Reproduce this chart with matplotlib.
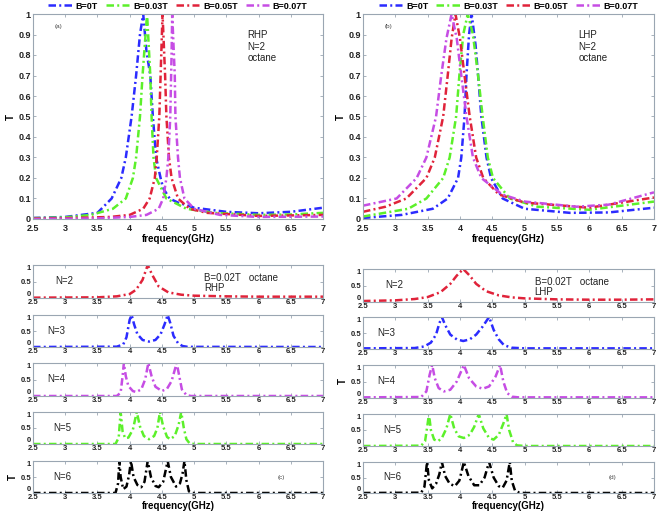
import matplotlib
matplotlib.use("Agg")
import matplotlib.pyplot as plt

plt.rcParams['font.family'] = ['Liberation Sans', 'DejaVu Sans']

# ---- top panels: T vs frequency for several B (N=2, octane) ----
field_labels = ['B=0T', 'B=0.03T', 'B=0.05T', 'B=0.07T']
field_colors = ['#2b2bff', '#5cf02a', '#e0233a', '#c64de4']

rhp_f = [
    [2.5, 3.0, 3.5, 3.72, 3.87, 3.94, 4.03, 4.1, 4.16, 4.21, 4.26, 4.32, 4.36, 4.41, 4.48, 4.52, 4.62, 4.75, 4.88, 5.0, 5.5, 6.0, 6.5, 7.0],
    [2.5, 3.0, 3.4, 3.74, 3.94, 4.05, 4.1, 4.16, 4.2, 4.27, 4.32, 4.34, 4.37, 4.41, 4.57, 4.88, 5.3, 6.0, 6.5, 7.0],
    [2.5, 3.0, 3.7, 4.0, 4.21, 4.31, 4.39, 4.42, 4.46, 4.49, 4.51, 4.55, 4.57, 4.61, 4.65, 4.75, 4.93, 5.2, 6.0, 7.0],
    [2.5, 3.5, 4.0, 4.26, 4.45, 4.52, 4.57, 4.6, 4.63, 4.65, 4.66, 4.7, 4.71, 4.75, 4.78, 4.85, 5.0, 5.4, 6.0, 7.0],
]
rhp_t = [
    [0.005, 0.01, 0.03, 0.1, 0.2, 0.3, 0.5, 0.7, 0.9, 1.0, 0.82, 0.7, 0.5, 0.3, 0.2, 0.15, 0.1, 0.08, 0.068, 0.055, 0.035, 0.028, 0.035, 0.055],
    [0.004, 0.008, 0.02, 0.05, 0.1, 0.2, 0.3, 0.5, 0.7, 1.0, 0.7, 0.5, 0.3, 0.2, 0.1, 0.05, 0.03, 0.02, 0.022, 0.03],
    [0.002, 0.004, 0.01, 0.02, 0.05, 0.1, 0.2, 0.3, 0.5, 0.8, 1.0, 0.7, 0.5, 0.3, 0.2, 0.1, 0.05, 0.03, 0.015, 0.02],
    [0.0, 0.003, 0.01, 0.02, 0.05, 0.1, 0.2, 0.3, 0.5, 0.8, 1.0, 0.7, 0.5, 0.3, 0.2, 0.1, 0.05, 0.02, 0.01, 0.012],
]

lhp_f = [
    [2.5, 3.1, 3.58, 3.81, 3.97, 4.02, 4.07, 4.1, 4.14, 4.18, 4.24, 4.28, 4.33, 4.41, 4.48, 4.66, 5.0, 5.7, 6.3, 7.0],
    [2.5, 3.2, 3.48, 3.74, 3.84, 3.94, 3.99, 4.05, 4.12, 4.2, 4.28, 4.35, 4.43, 4.51, 4.77, 5.2, 6.0, 7.0],
    [2.5, 2.85, 3.17, 3.48, 3.61, 3.74, 3.81, 3.87, 3.93, 4.0, 4.07, 4.15, 4.25, 4.36, 4.6, 5.0, 6.0, 7.0],
    [2.5, 3.02, 3.33, 3.48, 3.63, 3.71, 3.79, 3.87, 3.95, 4.02, 4.1, 4.2, 4.33, 4.65, 5.0, 5.8, 6.3, 7.0],
]
lhp_t = [
    [0.005, 0.02, 0.05, 0.1, 0.2, 0.3, 0.5, 0.7, 0.9, 1.0, 0.85, 0.7, 0.5, 0.3, 0.2, 0.1, 0.05, 0.03, 0.032, 0.055],
    [0.012, 0.05, 0.1, 0.2, 0.3, 0.5, 0.7, 0.9, 1.0, 0.9, 0.7, 0.5, 0.3, 0.2, 0.1, 0.06, 0.045, 0.085],
    [0.035, 0.06, 0.1, 0.2, 0.3, 0.5, 0.7, 0.88, 1.0, 0.88, 0.7, 0.5, 0.3, 0.2, 0.12, 0.08, 0.055, 0.105],
    [0.065, 0.1, 0.2, 0.3, 0.5, 0.7, 0.88, 1.0, 0.88, 0.7, 0.5, 0.3, 0.2, 0.12, 0.085, 0.06, 0.07, 0.13],
]

# ---- bottom panels: T vs frequency for N = 2..6 (B=0.02T, octane) ----
n_labels = ['N=2', 'N=3', 'N=4', 'N=5', 'N=6']
n_colors = ['#e0233a', '#2b2bff', '#c64de4', '#5cf02a', '#000000']

rhp_n_f = [
    [2.5, 3.5, 3.8, 4.0, 4.1, 4.2, 4.28, 4.35, 4.45, 4.6, 4.8, 5.0, 5.5, 6.0, 7.0],
    [2.5, 3.8, 3.9, 3.95, 4.0, 4.03, 4.07, 4.12, 4.2, 4.3, 4.4, 4.48, 4.54, 4.59, 4.63, 4.68, 4.75, 4.82, 4.9, 7.0],
    [2.5, 3.8, 3.86, 3.89, 3.91, 3.94, 3.98, 4.05, 4.1, 4.18, 4.24, 4.29, 4.34, 4.4, 4.5, 4.58, 4.65, 4.73, 4.77, 4.81, 4.88, 4.95, 7.0],
    [2.5, 3.78, 3.83, 3.86, 3.89, 3.93, 3.98, 4.05, 4.11, 4.16, 4.22, 4.3, 4.38, 4.43, 4.47, 4.52, 4.58, 4.63, 4.7, 4.76, 4.8, 4.84, 4.88, 4.93, 5.0, 7.0],
    [2.5, 3.78, 3.82, 3.84, 3.86, 3.9, 3.95, 3.99, 4.02, 4.06, 4.12, 4.18, 4.23, 4.28, 4.33, 4.4, 4.45, 4.52, 4.59, 4.64, 4.72, 4.78, 4.82, 4.85, 4.88, 4.92, 4.97, 7.0],
]
rhp_n_t = [
    [0.01, 0.02, 0.05, 0.12, 0.25, 0.55, 1.0, 0.7, 0.35, 0.17, 0.1, 0.07, 0.05, 0.04, 0.04],
    [0.0, 0.01, 0.08, 0.3, 0.85, 1.0, 0.7, 0.4, 0.22, 0.17, 0.22, 0.4, 0.7, 1.0, 0.75, 0.35, 0.12, 0.03, 0.005, 0.0],
    [0.0, 0.0, 0.1, 0.6, 1.0, 0.6, 0.3, 0.15, 0.12, 0.2, 0.5, 1.0, 0.6, 0.28, 0.15, 0.22, 0.45, 1.0, 0.6, 0.2, 0.03, 0.0, 0.0],
    [0.0, 0.0, 0.2, 1.0, 0.4, 0.18, 0.2, 0.45, 1.0, 0.55, 0.25, 0.15, 0.25, 0.5, 1.0, 0.55, 0.22, 0.15, 0.25, 0.6, 1.0, 0.5, 0.15, 0.02, 0.0, 0.0],
    [0.0, 0.0, 0.3, 1.0, 0.5, 0.12, 0.2, 0.55, 1.0, 0.5, 0.25, 0.18, 0.35, 1.0, 0.5, 0.22, 0.18, 0.35, 1.0, 0.5, 0.2, 0.3, 0.6, 1.0, 0.4, 0.05, 0.0, 0.0],
]

lhp_n_f = [
    [2.5, 3.0, 3.3, 3.5, 3.7, 3.85, 3.95, 4.05, 4.15, 4.25, 4.4, 4.6, 4.8, 5.0, 5.5, 6.0, 6.5, 7.0],
    [2.5, 3.3, 3.45, 3.55, 3.63, 3.68, 3.72, 3.77, 3.85, 3.95, 4.05, 4.15, 4.25, 4.35, 4.45, 4.52, 4.6, 4.68, 4.8, 5.0, 7.0],
    [2.5, 3.4, 3.48, 3.53, 3.57, 3.61, 3.67, 3.75, 3.85, 3.95, 4.06, 4.14, 4.25, 4.35, 4.45, 4.55, 4.62, 4.67, 4.73, 4.8, 4.9, 7.0],
    [2.5, 3.4, 3.46, 3.5, 3.52, 3.55, 3.6, 3.66, 3.72, 3.79, 3.85, 3.91, 3.98, 4.06, 4.15, 4.22, 4.29, 4.36, 4.45, 4.52, 4.6, 4.67, 4.72, 4.76, 4.82, 4.88, 5.0, 7.0],
    [2.5, 3.4, 3.45, 3.49, 3.52, 3.57, 3.63, 3.68, 3.72, 3.77, 3.84, 3.92, 3.99, 4.06, 4.13, 4.22, 4.3, 4.38, 4.45, 4.52, 4.6, 4.66, 4.72, 4.77, 4.8, 4.85, 4.92, 5.0, 7.0],
]
lhp_n_t = [
    [0.03, 0.05, 0.09, 0.15, 0.3, 0.55, 0.8, 1.0, 0.8, 0.55, 0.33, 0.2, 0.14, 0.11, 0.08, 0.07, 0.07, 0.08],
    [0.02, 0.03, 0.08, 0.2, 0.45, 0.8, 1.0, 0.75, 0.45, 0.3, 0.25, 0.3, 0.45, 0.7, 1.0, 0.6, 0.3, 0.12, 0.04, 0.02, 0.02],
    [0.02, 0.03, 0.2, 0.7, 1.0, 0.6, 0.3, 0.2, 0.25, 0.5, 1.0, 0.6, 0.35, 0.28, 0.35, 0.65, 1.0, 0.5, 0.15, 0.04, 0.02, 0.02],
    [0.0, 0.01, 0.15, 0.7, 1.0, 0.5, 0.2, 0.15, 0.25, 0.55, 1.0, 0.55, 0.3, 0.25, 0.35, 0.6, 1.0, 0.55, 0.25, 0.2, 0.35, 0.7, 1.0, 0.5, 0.12, 0.02, 0.0, 0.0],
    [0.0, 0.01, 0.2, 1.0, 0.4, 0.15, 0.3, 0.6, 1.0, 0.55, 0.3, 0.22, 0.4, 1.0, 0.55, 0.25, 0.25, 0.5, 1.0, 0.5, 0.22, 0.17, 0.4, 1.0, 0.4, 0.08, 0.01, 0.0, 0.0],
]

freq_ticks = [2.5, 3, 3.5, 4, 4.5, 5, 5.5, 6, 6.5, 7]
freq_tick_labels = ['2.5', '3', '3.5', '4', '4.5', '5', '5.5', '6', '6.5', '7']
t_ticks = [0, 0.1, 0.2, 0.3, 0.4, 0.5, 0.6, 0.7, 0.8, 0.9, 1]
t_tick_labels = ['0', '0.1', '0.2', '0.3', '0.4', '0.5', '0.6', '0.7', '0.8', '0.9', '1']

W, H = 661, 518
frame_col = '#9aa6b2'
dash = (3, 1.3, 0.8, 1.3)


def px_axes(fig, x0, y0, x1, y1):
    # pixel box (top-left origin) -> figure axes
    return fig.add_axes([x0 / W, 1 - y1 / H, (x1 - x0) / W, (y1 - y0) / H])


def style_axes(ax, size):
    for s in ax.spines.values():
        s.set_color(frame_col)
        s.set_linewidth(0.8)
    ax.tick_params(direction='in', length=2.5, width=0.6, colors=frame_col,
                   labelcolor='#222222', labelsize=size, pad=1.5,
                   top=True, right=True)
    for lab in ax.get_xticklabels() + ax.get_yticklabels():
        lab.set_fontweight('bold')


fig = plt.figure(figsize=(W / 100, H / 100), dpi=100)

# top panels
tops = [
    (33, 323, rhp_f, rhp_t, '(a)', 'RHP\nN=2\noctane'),
    (363, 654, lhp_f, lhp_t, '(b)', 'LHP\nN=2\noctane'),
]
for x0, x1, fs, ts, tag, note in tops:
    ax = px_axes(fig, x0, 14, x1, 219)
    for f, t, c, lab in zip(fs, ts, field_colors, field_labels):
        ax.plot(f, t, color=c, lw=1.8, dashes=dash, label=lab)
    ax.set_xlim(2.5, 7)
    ax.set_ylim(0, 1)
    ax.set_xticks(freq_ticks)
    ax.set_xticklabels(freq_tick_labels)
    ax.set_yticks(t_ticks)
    ax.set_yticklabels(t_tick_labels)
    style_axes(ax, 6.5)
    ax.tick_params(axis='x', pad=3.5)
    ax.set_xlabel('frequency(GHz)', fontsize=7, fontweight='bold', labelpad=1)
    ax.set_ylabel('T', fontsize=7, fontweight='bold', labelpad=2)
    ax.text(0.075, 0.93, tag, transform=ax.transAxes, fontsize=4.5, color='#444444')
    ax.text(0.74, 0.92, note, transform=ax.transAxes, fontsize=7, va='top',
            linespacing=1.15, color='#222222')
    leg = ax.legend(loc='lower center', bbox_to_anchor=(0.5, 0.99), ncol=4,
                    frameon=False, fontsize=6.5, handlelength=2.6,
                    handletextpad=0.4, columnspacing=0.9, borderpad=0.1)
    for txt in leg.get_texts():
        txt.set_fontweight('bold')

# bottom stacks
left_boxes = [(265, 298), (315, 347), (363, 396), (412, 444), (461, 493)]
right_boxes = [(269, 302), (317, 349), (365, 398), (414, 446), (462, 493)]
stacks = [
    (33, 323, left_boxes, rhp_n_f, rhp_n_t, 'RHP', '(c)', 4, [0.075, 0.05, 0.05, 0.07, 0.07]),
    (363, 654, right_boxes, lhp_n_f, lhp_n_t, 'LHP', '(d)', 2, [0.075, 0.05, 0.05, 0.07, 0.07]),
]
for x0, x1, boxes, fs, ts, hand, tag, t_row, nx in stacks:
    for i, (y0, y1) in enumerate(boxes):
        ax = px_axes(fig, x0, y0, x1, y1)
        ax.plot(fs[i], ts[i], color=n_colors[i], lw=1.8, dashes=dash)
        ax.set_xlim(2.5, 7)
        ax.set_ylim(0, 1)
        ax.set_xticks(freq_ticks)
        ax.set_xticklabels(freq_tick_labels)
        ax.set_yticks([0, 0.5, 1])
        ax.set_yticklabels(['0', '0.5', '1'])
        style_axes(ax, 5.5)
        ax.tick_params(axis='x', pad=0.5)
        # keep the "0" label just above the first x tick label
        ax.get_yticklabels()[0].set_va('bottom')
        ax.get_yticklabels()[-1].set_va('top')
        ax.text(nx[i], 0.5, n_labels[i], transform=ax.transAxes, fontsize=7,
                va='center', color='#222222')
        if i == 0:
            ax.text(0.59, 0.62, 'B=0.02T   octane', transform=ax.transAxes,
                    fontsize=7, va='center', color='#222222')
            ax.text(0.59, 0.3, hand, transform=ax.transAxes,
                    fontsize=7, va='center', color='#222222')
        if i == t_row:
            ax.set_ylabel('T', fontsize=7, fontweight='bold', labelpad=2)
        if i == 4:
            ax.set_xlabel('frequency(GHz)', fontsize=7, fontweight='bold', labelpad=0.5)
            ax.text(0.845, 0.5, tag, transform=ax.transAxes, fontsize=4.5,
                    va='center', color='#444444')

fig.savefig('out.png', dpi=100)
